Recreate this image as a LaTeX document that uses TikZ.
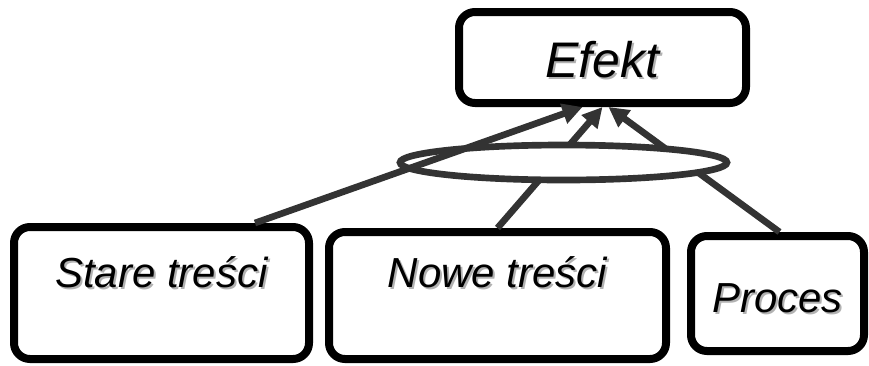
\documentclass[tikz,border=0pt]{standalone}
\usepackage{fontspec}
\setmainfont{Liberation Sans}
\usetikzlibrary{arrows.meta,shapes.geometric,calc}
\definecolor{ciemny}{HTML}{333333}
\newcommand{\cien}[1]{\rlap{\textcolor{gray!60}{\kern1.5pt\raisebox{-1.5pt}{#1}}}#1}

\begin{document}
\begin{tikzpicture}[x=0.75pt,y=-0.75pt,
  pole/.style={draw=black,line width=6pt,rounded corners=12pt,inner sep=0pt,fill=white,
    font=\itshape\fontsize{31.5}{36}\selectfont},
  strz/.style={draw=ciemny,line width=5pt,-{Triangle[length=15pt,width=15pt]}}]
\useasboundingbox (0,0) rectangle (869,365);

\node[pole,minimum width=215.25pt,text height=48.75pt,text depth=19.5pt,
  font=\itshape\fontsize{37.5}{40}\selectfont] (efekt) at (602.5,57.5) {\cien{Efekt}};
\node[pole,minimum width=221.25pt,text height=45pt,text depth=54pt] (stare) at (161.5,293) {\cien{Stare treści}};
\node[pole,minimum width=252.75pt,text height=41.25pt,text depth=54pt] (nowe) at (497.5,295.5) {\cien{Nowe treści}};
\node[pole,minimum width=129.75pt,text height=57pt,text depth=29.25pt] (proces) at (777.5,293.5) {\cien{Proces}};

\draw[strz] (nowe.north) -- (efekt.south);
\draw[strz] ($(proces.north)+(2,0)$) -- ($(efekt.south)+(6,0)$);
\node[ellipse,draw=ciemny,line width=5pt,fill=white,inner sep=0pt,
  minimum width=245.25pt,minimum height=26.25pt] (ogniwo) at (563.5,162.5) {};
\draw[strz] ($(stare.north)+(93.5,0)$) -- ($(efekt.south)+(-20,0)$);

\end{tikzpicture}
\end{document}
